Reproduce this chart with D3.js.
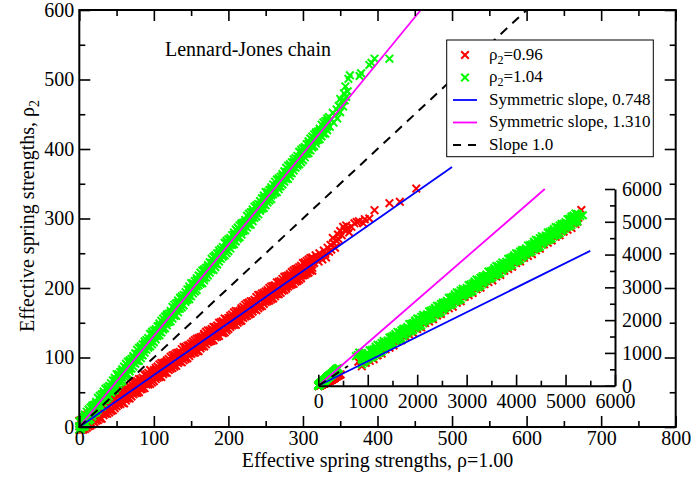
<!DOCTYPE html>
<html>
<head>
<meta charset="utf-8">
<script src="https://cdn.jsdelivr.net/npm/d3@7"></script>
<style>
  body { margin: 0; background: #fff; }
  svg { display: block; }
  text { font-family: "Liberation Serif", "Times New Roman", Times, serif; fill: #000; }
</style>
</head>
<body>
<svg id="chart" width="694" height="477"></svg>
<script>
// ---------- main panel: rho2 = 0.96 (red) ----------
const redX = [0,5,10,15,20,25,30,35,40,45,50,55,60,65,70,75,80,85,90,95,100,105,110,115,120,125,130,135,140,145,150,155,160,165,170,175,180,185,190,195,200,205,210,215,220,225,230,235,240,245,250,255,260,265,270,275,280,285,290,295,300,305,310];
const redUpper = [9,11,17,20,21,28,31,34,40,42,45,51,53,55,62,65,69,71,76,82,82,87,92,93,98,103,106,108,115,117,120,125,128,130,137,139,144,146,151,156,157,162,167,167,173,178,181,183,190,192,195,200,203,208,210,216,218,223,227,230,236,239,243];
const redMid = [1,4,6,12,15,17,23,26,29,35,37,43,44,49,50,57,60,65,66,71,77,78,82,87,88,94,98,101,104,110,112,115,121,123,125,132,135,139,141,146,152,152,157,162,163,168,173,176,179,185,187,190,195,198,203,207,209,215,218,223,225,231,234];
const redLower = [-4,-4,-1,2,7,10,12,19,21,24,30,33,34,41,44,49,50,55,61,62,66,71,72,78,82,85,88,94,96,99,105,107,109,116,119,123,125,130,136,136,141,146,147,152,157,160,163,169,171,174,180,182,185,191,193,197,202,205,209,212,218,221,225];
const redXHalf = [2.5,7.5,12.5,17.5,22.5,27.5,32.5,37.5,42.5,47.5,52.5,57.5,62.5,67.5,72.5,77.5,82.5,87.5,92.5,97.5,102.5,107.5,112.5,117.5,122.5,127.5,132.5,137.5,142.5,147.5,152.5,157.5,162.5,167.5,172.5,177.5,182.5,187.5,192.5,197.5,202.5,207.5,212.5,217.5,222.5,227.5,232.5,237.5,242.5,247.5,252.5,257.5,262.5,267.5,272.5,277.5,282.5,287.5,292.5,297.5,302.5,307.5,312.5];
const redUpHalf = [10,15,17,22,26,29,32,38,40,43,48,53,54,59,64,66,69,75,78,80,85,90,92,96,101,104,107,112,115,118,123,127,129,134,139,141,144,150,152,155,160,165,166,171,176,179,181,187,190,193,197,202,204,209,213,217,220,225,228,232,237,241,244];
const redUpMid = [7,9,14,19,20,25,30,30,36,41,45,46,51,57,58,62,67,68,73,78,82,84,88,94,95,100,104,105,111,116,119,121,126,132,132,137,142,143,148,153,157,159,163,169,170,174,179,180,186,190,194,196,201,206,207,212,217,220,224,228,233,236,241];
const redLowMid = [-2,2,4,9,15,15,20,25,25,31,35,40,41,46,52,53,57,62,63,69,72,77,79,84,89,90,95,100,100,106,110,115,116,121,127,127,132,137,138,143,147,152,154,158,164,165,170,174,175,181,185,189,191,196,202,202,207,212,212,218,222,227,229];
const redLowHalf = [-4,-3,1,4,9,12,17,19,23,27,32,35,38,41,47,49,54,56,61,64,69,72,76,78,84,87,92,93,98,102,107,109,113,116,122,124,129,131,135,139,144,147,150,153,159,162,166,168,173,177,181,184,188,191,196,199,204,206,210,214,219,222,225];
const redTail = [[313,240],[315,236],[317,247],[319,242],[321,238],[322,250],[324,245],[326,241],[328,254],[330,249],[331,244],[333,258],[335,252],[337,262],[338,255],[340,272],[341,265],[343,258],[345,268],[347,277],[348,270],[350,282],[352,276],[354,288],[356,283],[358,290],[360,286],[362,280],[365,288],[369,293],[372,295],[375,296],[381,293],[383,299],[389,300],[396,312],[416,322],[430,324],[452,343]];

// ---------- main panel: rho2 = 1.04 (green) ----------
const greenX = [0,5,10,15,20,25,30,35,40,45,50,55,60,65,70,75,80,85,90,95,100,105,110,115,120,125,130,135,140,145,150,155,160,165,170,175,180,185,190,195,200,205,210,215,220,225,230,235,240,245,250,255,260,265,270,275,280,285,290,295,300,305,310,315,320,325,330];
const greenUpper = [8,14,22,28,32,42,47,55,59,67,76,79,87,94,98,106,114,119,125,134,139,145,153,159,163,173,178,186,190,198,207,210,218,225,229,237,245,250,256,265,270,276,284,290,294,304,309,317,321,329,338,341,349,356,360,368,376,381,387,396,401,407,415,421,425,435,440];
const greenMid = [1,7,12,22,26,31,40,46,53,58,66,74,78,85,93,96,105,112,117,124,132,138,143,153,157,162,171,177,184,189,197,205,209,216,224,227,236,243,248,255,263,269,274,284,288,293,302,308,315,320,328,336,340,347,355,358,367,374,379,386,394,400,405,415,419,424,433];
const greenLower = [-4,0,5,11,20,25,29,39,44,52,57,64,73,76,84,91,95,103,111,116,122,131,136,142,151,156,160,170,175,183,188,195,204,207,215,222,226,234,242,247,253,262,267,273,282,287,291,301,306,314,319,326,335,338,346,353,357,365,373,378,384,393,398,404,413,418,422];
const greenXHalf = [2.5,7.5,12.5,17.5,22.5,27.5,32.5,37.5,42.5,47.5,52.5,57.5,62.5,67.5,72.5,77.5,82.5,87.5,92.5,97.5,102.5,107.5,112.5,117.5,122.5,127.5,132.5,137.5,142.5,147.5,152.5,157.5,162.5,167.5,172.5,177.5,182.5,187.5,192.5,197.5,202.5,207.5,212.5,217.5,222.5,227.5,232.5,237.5,242.5,247.5,252.5,257.5,262.5,267.5,272.5,277.5,282.5,287.5,292.5,297.5,302.5,307.5,312.5,317.5,322.5,327.5,332.5];
const greenUpHalf = [10,18,25,31,36,45,51,57,63,71,76,83,91,96,102,111,116,123,128,137,141,149,156,162,167,176,182,188,194,202,207,214,222,227,233,242,247,254,259,268,272,280,287,293,298,307,313,319,325,333,338,345,353,358,364,373,378,385,390,399,403,411,418,424,429,438,444];
const greenUpMid = [7,15,19,29,33,39,48,53,58,67,73,80,85,94,99,105,113,119,123,133,138,146,150,160,164,170,179,184,189,198,204,211,216,225,230,236,244,250,254,264,269,277,281,291,295,301,310,315,320,329,335,342,347,356,361,367,375,381,385,395,400,408,412,422,426,432,441];
const greenLowMid = [0,6,11,19,27,31,39,46,51,58,66,71,77,84,93,97,104,112,116,124,131,137,142,150,158,162,170,177,182,189,197,202,208,215,224,228,235,243,247,255,262,268,273,281,289,293,301,308,313,320,328,333,339,346,355,359,366,374,378,386,393,399,404,412,420,424,432];
const greenLowHalf = [-3,1,9,15,21,29,34,41,49,53,61,66,75,80,87,95,99,107,114,119,126,132,140,146,152,160,165,172,180,184,192,197,206,211,218,226,230,238,245,250,257,263,271,277,283,291,296,303,311,315,323,328,337,342,349,357,361,369,376,381,388,394,402,408,414,422,427];
const greenTail = [[333,437],[335,446],[336,432],[338,443],[340,452],[341,438],[343,448],[345,457],[346,444],[348,462],[350,453],[350,472],[352,468],[354,461],[355,480],[356,470],[357,490],[358,475],[360,483],[361,501],[363,506],[376,505],[378,509],[389,521],[392,524],[396,530],[416,530]];

// ---------- inset: large-strength data ----------
const insetX = [880,960,1040,1120,1200,1280,1360,1440,1520,1600,1680,1760,1840,1920,2000,2080,2160,2240,2320,2400,2480,2560,2640,2720,2800,2880,2960,3040,3120,3200,3280,3360,3440,3520,3600,3680,3760,3840,3920,4000,4080,4160,4240,4320,4400,4480,4560,4640,4720,4800,4880,4960,5040,5120,5200];
const greenInUpper = [890,940,1080,1110,1250,1300,1330,1470,1520,1640,1690,1740,1880,1910,2050,2100,2130,2270,2320,2440,2490,2540,2680,2710,2850,2900,2930,3070,3120,3240,3290,3340,3480,3510,3650,3700,3730,3870,3920,4040,4090,4140,4280,4310,4450,4500,4530,4670,4720,4840,4890,4940,5080,5110,5250];
const greenInMid = [800,850,940,1050,1080,1190,1230,1340,1440,1490,1600,1650,1740,1850,1880,1990,2030,2140,2240,2290,2400,2450,2540,2650,2680,2790,2830,2940,3040,3090,3200,3250,3340,3450,3480,3590,3630,3740,3840,3890,4000,4050,4140,4250,4280,4390,4430,4540,4640,4690,4800,4850,4940,5050,5080];
const greenInLower = [650,760,860,900,990,1040,1170,1230,1290,1400,1450,1560,1660,1700,1790,1840,1970,2030,2090,2200,2250,2360,2460,2500,2590,2640,2770,2830,2890,3000,3050,3160,3260,3300,3390,3440,3570,3630,3690,3800,3850,3960,4060,4100,4190,4240,4370,4430,4490,4600,4650,4760,4860,4900,4990];
const redInUpper = [740,790,890,990,1040,1160,1180,1290,1380,1430,1540,1590,1690,1790,1840,1960,1980,2090,2180,2230,2340,2390,2490,2590,2640,2760,2780,2890,2980,3030,3140,3190,3290,3390,3440,3560,3580,3690,3780,3830,3940,3990,4090,4190,4240,4360,4380,4490,4580,4630,4740,4790,4890,4990,5040];
const redInLower = [590,700,760,810,930,980,1110,1160,1230,1340,1390,1500,1560,1610,1730,1780,1910,1960,2030,2140,2190,2300,2360,2410,2530,2580,2710,2760,2830,2940,2990,3100,3160,3210,3330,3380,3510,3560,3630,3740,3790,3900,3960,4010,4130,4180,4310,4360,4430,4540,4590,4700,4760,4810,4930];
const insetXHalf = [920,1000,1080,1160,1240,1320,1400,1480,1560,1640,1720,1800,1880,1960,2040,2120,2200,2280,2360,2440,2520,2600,2680,2760,2840,2920,3000,3080,3160,3240,3320,3400,3480,3560,3640,3720,3800,3880,3960,4040,4120,4200,4280,4360,4440,4520,4600,4680,4760,4840,4920,5000,5080,5160,5240];
const greenInUpHalf = [940,990,1090,1190,1240,1360,1380,1490,1580,1630,1740,1790,1890,1990,2040,2160,2180,2290,2380,2430,2540,2590,2690,2790,2840,2960,2980,3090,3180,3230,3340,3390,3490,3590,3640,3760,3780,3890,3980,4030,4140,4190,4290,4390,4440,4560,4580,4690,4780,4830,4940,4990,5090,5190,5240];
const greenInUpMid = [895,945,1035,1145,1175,1285,1325,1435,1535,1585,1695,1745,1835,1945,1975,2085,2125,2235,2335,2385,2495,2545,2635,2745,2775,2885,2925,3035,3135,3185,3295,3345,3435,3545,3575,3685,3725,3835,3935,3985,4095,4145,4235,4345,4375,4485,4525,4635,4735,4785,4895,4945,5035,5145,5175];
const greenInLowMid = [755,865,925,975,1095,1145,1275,1325,1395,1505,1555,1665,1725,1775,1895,1945,2075,2125,2195,2305,2355,2465,2525,2575,2695,2745,2875,2925,2995,3105,3155,3265,3325,3375,3495,3545,3675,3725,3795,3905,3955,4065,4125,4175,4295,4345,4475,4525,4595,4705,4755,4865,4925,4975,5095];
const greenInLowHalf = [710,810,860,960,1010,1110,1220,1260,1360,1410,1510,1610,1660,1760,1810,1910,2020,2060,2160,2210,2310,2410,2460,2560,2610,2710,2820,2860,2960,3010,3110,3210,3260,3360,3410,3510,3620,3660,3760,3810,3910,4010,4060,4160,4210,4310,4420,4460,4560,4610,4710,4810,4860,4960,5010];
const redInMid = [705,805,855,955,1005,1105,1215,1255,1355,1405,1505,1605,1655,1755,1805,1905,2015,2055,2155,2205,2305,2405,2455,2555,2605,2705,2815,2855,2955,3005,3105,3205,3255,3355,3405,3505,3615,3655,3755,3805,3905,4005,4055,4155,4205,4305,4415,4455,4555,4605,4705,4805,4855,4955,5005];
const greenInExtra = [[760,900],[800,940],[830,1010],[880,1000],[5120,5160],[5180,5150],[5250,5230],[5300,5180],[5350,5200]];
const redInExtra = [[810,730],[850,780],[1050,880],[1180,930],[5260,5120],[5320,5360]];

// ---------- reference lines ----------
const fitSlopes = [0.748, 1.310, 1.0];
const fitColors = ["#0000ff", "#ff00ff", "#000000"];
const fitDashed = [false, false, true];
const mainFitXMax = [500, 458, 600];
const insetFitXMax = [5500, 4580, 600];

// ---------- ticks ----------
const mainXMajor = [0,100,200,300,400,500,600,700,800];
const mainXMinor = [50,150,250,350,450,550,650,750];
const mainYMajor = [0,100,200,300,400,500,600];
const mainYMinor = [50,150,250,350,450,550];
const insetMajor = [0,1000,2000,3000,4000,5000,6000];
const insetMinor = [500,1500,2500,3500,4500,5500];

// ---------- legend ----------
const legendLabels = [
  [["ρ", false], ["2", true], ["=0.96", false]],
  [["ρ", false], ["2", true], ["=1.04", false]],
  [["Symmetric slope, 0.748", false]],
  [["Symmetric slope, 1.310", false]],
  [["Slope 1.0", false]]
];
const legendKinds = ["cross", "cross", "line", "line", "line"];
const legendColors = ["#ff0000", "#00ff00", "#0000ff", "#ff00ff", "#000000"];
const legendDashed = [false, false, false, false, true];

// ---------- drawing ----------
const RED = "#ff0000", GREEN = "#00ff00";
const svg = d3.select("#chart");

const x = d3.scaleLinear([0, 800], [79.3, 675.7]);
const y = d3.scaleLinear([0, 600], [427, 10]);
const ix = d3.scaleLinear([0, 6000], [318.3, 615]);
const iy = d3.scaleLinear([0, 6000], [385.7, 189]);

const zip = (xs, ys) => xs.map((v, i) => [v, ys[i]]);
const redMain = [
  ...zip(redX, redUpper), ...zip(redX, redMid), ...zip(redX, redLower),
  ...zip(redXHalf, redUpHalf), ...zip(redXHalf, redUpMid),
  ...zip(redXHalf, redLowMid), ...zip(redXHalf, redLowHalf), ...redTail
];
const greenMain = [
  ...zip(greenX, greenUpper), ...zip(greenX, greenMid), ...zip(greenX, greenLower),
  ...zip(greenXHalf, greenUpHalf), ...zip(greenXHalf, greenUpMid),
  ...zip(greenXHalf, greenLowMid), ...zip(greenXHalf, greenLowHalf), ...greenTail
];
const redInset = [
  ...zip(insetX, redInUpper), ...zip(insetX, redInLower), ...zip(insetXHalf, redInMid), ...redInExtra
];
const greenInset = [
  ...zip(insetX, greenInUpper), ...zip(insetX, greenInMid), ...zip(insetX, greenInLower),
  ...zip(insetXHalf, greenInUpHalf), ...zip(insetXHalf, greenInUpMid),
  ...zip(insetXHalf, greenInLowMid), ...zip(insetXHalf, greenInLowHalf), ...greenInExtra
];

const crossPath = "M-3.8,-3.8L3.8,3.8M-3.8,3.8L3.8,-3.8";

function drawPoints(pts, sx, sy, color) {
  svg.append("g").selectAll("path").data(pts).join("path")
    .attr("d", crossPath)
    .attr("transform", d => `translate(${sx(d[0])},${sy(d[1])})`)
    .attr("fill", "none")
    .attr("stroke", color)
    .attr("stroke-width", 2);
}

function drawFits(sx, sy, xMaxes) {
  const line = d3.line().x(d => sx(d[0])).y(d => sy(d[1]));
  fitSlopes.forEach((s, i) => {
    svg.append("path")
      .attr("d", line([[0, 0], [xMaxes[i], s * xMaxes[i]]]))
      .attr("fill", "none")
      .attr("stroke", fitColors[i])
      .attr("stroke-width", fitDashed[i] ? 2 : 1.8)
      .attr("stroke-dasharray", fitDashed[i] ? "9,7" : null);
  });
}

// main scatter and fits
drawPoints(redMain, x, y, RED);
drawPoints(greenMain, x, y, GREEN);
drawFits(x, y, mainFitXMax);

// inset scatter and fits
drawPoints(redInset, ix, iy, RED);
drawPoints(greenInset, ix, iy, GREEN);
drawPoints(redMain, ix, iy, RED);
drawPoints(greenMain, ix, iy, GREEN);
drawFits(ix, iy, insetFitXMax);

// axes helpers
function styleAxis(g, keepDomain) {
  g.attr("font-size", 20).attr("font-family", null);
  g.selectAll(".tick line").attr("stroke", "#000").attr("stroke-width", 1.6);
  g.selectAll(".tick text").attr("fill", "#000");
  if (keepDomain) g.select(".domain").attr("stroke", "#000").attr("stroke-width", 2);
  else g.select(".domain").remove();
}

// main axes: ticks inward on all four sides
const bottomY = y(0), topY = y(600), leftX = x(0), rightX = x(800);
svg.append("g").attr("transform", `translate(0,${bottomY})`)
  .call(d3.axisBottom(x).tickValues(mainXMajor).tickSize(-11).tickSizeOuter(0).tickPadding(4))
  .call(g => styleAxis(g, false));
svg.append("g").attr("transform", `translate(0,${bottomY})`)
  .call(d3.axisBottom(x).tickValues(mainXMinor).tickSize(-6).tickSizeOuter(0).tickFormat(""))
  .call(g => styleAxis(g, false));
svg.append("g").attr("transform", `translate(0,${topY})`)
  .call(d3.axisTop(x).tickValues(mainXMajor).tickSize(-11).tickSizeOuter(0).tickFormat(""))
  .call(g => styleAxis(g, false));
svg.append("g").attr("transform", `translate(0,${topY})`)
  .call(d3.axisTop(x).tickValues(mainXMinor).tickSize(-6).tickSizeOuter(0).tickFormat(""))
  .call(g => styleAxis(g, false));
svg.append("g").attr("transform", `translate(${leftX},0)`)
  .call(d3.axisLeft(y).tickValues(mainYMajor).tickSize(-11).tickSizeOuter(0).tickPadding(5))
  .call(g => styleAxis(g, false));
svg.append("g").attr("transform", `translate(${leftX},0)`)
  .call(d3.axisLeft(y).tickValues(mainYMinor).tickSize(-6).tickSizeOuter(0).tickFormat(""))
  .call(g => styleAxis(g, false));
svg.append("g").attr("transform", `translate(${rightX},0)`)
  .call(d3.axisRight(y).tickValues(mainYMajor).tickSize(-11).tickSizeOuter(0).tickFormat(""))
  .call(g => styleAxis(g, false));
svg.append("g").attr("transform", `translate(${rightX},0)`)
  .call(d3.axisRight(y).tickValues(mainYMinor).tickSize(-6).tickSizeOuter(0).tickFormat(""))
  .call(g => styleAxis(g, false));

svg.append("rect")
  .attr("x", leftX).attr("y", topY)
  .attr("width", rightX - leftX).attr("height", bottomY - topY)
  .attr("fill", "none").attr("stroke", "#000").attr("stroke-width", 2);

// inset axes: bottom and right
const plain = d3.format("d");
svg.append("g").attr("transform", `translate(0,${iy(0)})`)
  .call(d3.axisBottom(ix).tickValues(insetMajor).tickSize(-11).tickSizeOuter(0).tickPadding(8).tickFormat(plain))
  .call(g => styleAxis(g, true));
svg.append("g").attr("transform", `translate(0,${iy(0)})`)
  .call(d3.axisBottom(ix).tickValues(insetMinor).tickSize(-5).tickSizeOuter(0).tickFormat(""))
  .call(g => styleAxis(g, false));
svg.append("g").attr("transform", `translate(${ix(6000)},0)`)
  .call(d3.axisRight(iy).tickValues(insetMajor).tickSize(-10).tickSizeOuter(0).tickPadding(7).tickFormat(plain))
  .call(g => styleAxis(g, true));
svg.append("g").attr("transform", `translate(${ix(6000)},0)`)
  .call(d3.axisRight(iy).tickValues(insetMinor).tickSize(-5).tickSizeOuter(0).tickFormat(""))
  .call(g => styleAxis(g, false));

// titles
svg.append("text").attr("x", 165).attr("y", 56).attr("font-size", 20).text("Lennard-Jones chain");
svg.append("text").attr("x", (leftX + rightX) / 2).attr("y", 467)
  .attr("text-anchor", "middle").attr("font-size", 20)
  .text("Effective spring strengths, ρ=1.00");
const yl = svg.append("text")
  .attr("transform", "translate(33.5,216) rotate(-90)")
  .attr("text-anchor", "middle").attr("font-size", 20);
yl.append("tspan").text("Effective spring strengths, ρ");
yl.append("tspan").attr("dy", 5).attr("font-size", 14).text("2");

// legend
const lg = svg.append("g");
lg.append("rect").attr("x", 446.7).attr("y", 40).attr("width", 206.6).attr("height", 116.7)
  .attr("fill", "#fff").attr("stroke", "#000").attr("stroke-width", 1);
const rowBase = [59.5, 82, 104.5, 127, 149.5];
legendLabels.forEach((parts, i) => {
  const by = rowBase[i], cy = by - 4.5;
  if (legendKinds[i] === "cross") {
    lg.append("path").attr("d", crossPath).attr("transform", `translate(465,${cy})`)
      .attr("fill", "none").attr("stroke", legendColors[i]).attr("stroke-width", 2);
  } else {
    lg.append("line").attr("x1", 453).attr("x2", 477).attr("y1", cy).attr("y2", cy)
      .attr("stroke", legendColors[i]).attr("stroke-width", legendDashed[i] ? 2 : 1.8)
      .attr("stroke-dasharray", legendDashed[i] ? "8,7" : null);
  }
  const t = lg.append("text").attr("x", 489).attr("y", by).attr("font-size", 17);
  let shifted = false;
  parts.forEach(([str, sub]) => {
    const ts = t.append("tspan").text(str);
    if (sub) { ts.attr("dy", 4).attr("font-size", 12); shifted = true; }
    else if (shifted) { ts.attr("dy", -4); shifted = false; }
  });
});
</script>
</body>
</html>
